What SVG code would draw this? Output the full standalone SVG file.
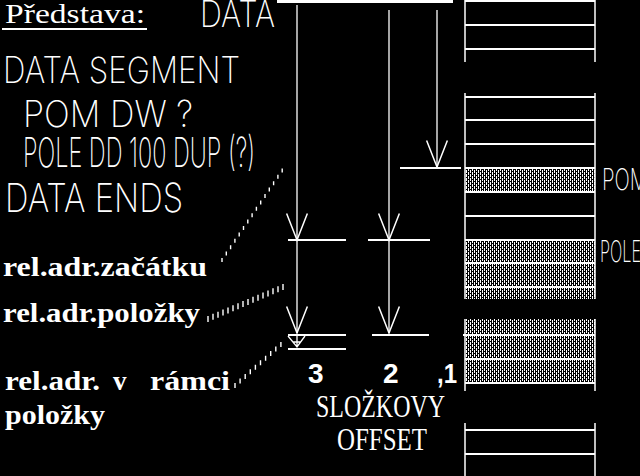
<svg xmlns="http://www.w3.org/2000/svg" width="640" height="476" viewBox="0 0 640 476">
<style>
.sans{font-family:Inter,"DejaVu Sans","Liberation Sans",sans-serif;font-weight:200;fill:#fff}
.serif{font-family:"Liberation Serif","DejaVu Serif",serif;fill:#fff}
.lbl{font-family:"Liberation Serif","DejaVu Serif",serif;font-weight:bold;font-size:27px;fill:#fff}
.dig{font-family:"Liberation Sans",Arial,sans-serif;font-weight:bold;font-size:28px;fill:#fff}
.ln{stroke:#fff;stroke-width:1.3;fill:none}
.hl{stroke:#fff;stroke-width:2;fill:none}
.tick{stroke:#fff;stroke-width:1.4;fill:none}
.cell{stroke:#fff;stroke-width:2}
.brd{stroke:#fff;stroke-width:1.5}
</style>
<defs>
<pattern id="hatch" width="4" height="4" patternUnits="userSpaceOnUse">
<rect width="4" height="4" fill="#000"/>
<rect x="0" y="0" width="1" height="3" fill="#fff"/>
<rect x="2" y="2" width="1" height="2" fill="#fff"/>
<rect x="2" y="0" width="1" height="1" fill="#fff"/>
</pattern>
<marker id="v" markerUnits="userSpaceOnUse" markerWidth="30" markerHeight="24" viewBox="-24 -10 26 20" refX="0" refY="0" orient="auto">
<path d="M-23,-9 L0,0 L-23,9" fill="none" stroke="#fff" stroke-width="1.3"/>
</marker>
</defs>
<rect width="640" height="476" fill="#000"/>

<g id="title">
<text class="serif" x="5" y="23" font-size="27" textLength="140" lengthAdjust="spacingAndGlyphs">Představa:</text>
<line class="hl" x1="2" y1="29" x2="147" y2="29"/>
</g>

<g id="data-label">
<text class="sans" x="200" y="27" font-size="36" textLength="75" lengthAdjust="spacingAndGlyphs">DATA</text>
</g>

<g id="code">
<text class="sans" x="3" y="83" font-size="36" textLength="237" lengthAdjust="spacingAndGlyphs">DATA SEGMENT</text>
<text class="sans" x="23" y="127" font-size="37" textLength="170" lengthAdjust="spacingAndGlyphs">POM DW ?</text>
<text class="sans" x="23" y="167" font-size="41" textLength="232" lengthAdjust="spacingAndGlyphs">POLE DD 100 DUP (?)</text>
<text class="sans" x="5" y="212" font-size="40" textLength="178" lengthAdjust="spacingAndGlyphs">DATA ENDS</text>
</g>

<g id="memory">
<rect x="465" y="168" width="130" height="24" fill="url(#hatch)"/>
<rect x="465" y="240" width="130" height="59" fill="url(#hatch)"/>
<rect x="465" y="319" width="130" height="64" fill="url(#hatch)"/>
<g class="brd">
<line x1="465" y1="0" x2="465" y2="62"/><line x1="595" y1="0" x2="595" y2="62"/>
<line x1="465" y1="93" x2="465" y2="299"/><line x1="595" y1="93" x2="595" y2="299"/>
<line x1="465" y1="319" x2="465" y2="391"/><line x1="595" y1="319" x2="595" y2="391"/>
<line x1="465" y1="423" x2="465" y2="476"/><line x1="595" y1="423" x2="595" y2="476"/>
</g>
<g class="cell">
<line x1="465" y1="1" x2="595" y2="1"/>
<line x1="465" y1="25" x2="595" y2="25"/>
<line x1="465" y1="49" x2="595" y2="49"/>
<line x1="465" y1="97" x2="595" y2="97"/>
<line x1="465" y1="120" x2="595" y2="120"/>
<line x1="465" y1="144" x2="595" y2="144"/>
<line x1="465" y1="168" x2="595" y2="168"/>
<line x1="465" y1="192" x2="595" y2="192"/>
<line x1="465" y1="216" x2="595" y2="216"/>
<line x1="465" y1="240" x2="595" y2="240"/>
<line x1="465" y1="263" x2="595" y2="263"/>
<line x1="465" y1="287" x2="595" y2="287"/>
<line x1="463" y1="335" x2="595" y2="335"/>
<line x1="465" y1="359" x2="595" y2="359"/>
<line x1="465" y1="383" x2="595" y2="383"/>
<line x1="465" y1="430" x2="595" y2="430"/>
<line x1="465" y1="454" x2="595" y2="454"/>
</g>
<text class="sans" x="602" y="190" font-size="30" textLength="46" lengthAdjust="spacingAndGlyphs">POM</text>
<text class="sans" x="600" y="262" font-size="30" textLength="41" lengthAdjust="spacingAndGlyphs">POLE</text>
</g>

<g id="labels">
<text class="lbl" x="3" y="276" textLength="204" lengthAdjust="spacingAndGlyphs">rel.adr.začátku</text>
<text class="lbl" x="3" y="322" textLength="197" lengthAdjust="spacingAndGlyphs">rel.adr.položky</text>
<text class="lbl" x="5" y="390" textLength="95" lengthAdjust="spacingAndGlyphs">rel.adr.</text>
<text class="lbl" x="113" y="390">v</text>
<text class="lbl" x="150" y="390" textLength="80" lengthAdjust="spacingAndGlyphs">rámci</text>
<text class="lbl" x="5" y="424" textLength="100" lengthAdjust="spacingAndGlyphs">položky</text>
</g>

<g id="offset">
<text class="dig" x="308" y="383">3</text>
<text class="dig" x="383" y="383">2</text>
<text class="dig" x="437" y="383" textLength="20" lengthAdjust="spacingAndGlyphs">,1</text>
<text class="serif" x="316" y="417" font-size="31" textLength="129" lengthAdjust="spacingAndGlyphs">SLOŽKOVY</text>
<text class="serif" x="337" y="450" font-size="31" textLength="90" lengthAdjust="spacingAndGlyphs">OFFSET</text>
</g>

<g id="connectors">
<line x1="277" y1="1.5" x2="453" y2="1.5" stroke="#fff" stroke-width="3"/>
<line class="ln" x1="297" y1="5" x2="297" y2="240" marker-end="url(#v)"/>
<line class="ln" x1="297" y1="240" x2="297" y2="333" marker-end="url(#v)"/>
<line class="ln" x1="389" y1="10" x2="389" y2="240" marker-end="url(#v)"/>
<line class="ln" x1="389" y1="240" x2="389" y2="333" marker-end="url(#v)"/>
<line class="ln" x1="437" y1="10" x2="437" y2="167" marker-end="url(#v)"/>
<line class="hl" x1="400" y1="168" x2="461" y2="168"/>
<line class="hl" x1="288" y1="240" x2="346" y2="240"/>
<line class="hl" x1="368" y1="240" x2="430" y2="240"/>
<line class="hl" x1="288" y1="335" x2="346" y2="335"/>
<line class="hl" x1="372" y1="335" x2="429" y2="335"/>
<line class="hl" x1="288" y1="349" x2="346" y2="349"/>
<path class="ln" d="M288,336 L297,347 L305,336 M293,342 L301,342 M297,336 V347"/>
<path class="tick" d="M222,262 v-4 m4.3,-2.4 v-4 m4.3,-2.4 v-4 m4.3,-2.4 v-4 m4.3,-2.4 v-4 m4.3,-2.4 v-4 m4.3,-2.4 v-4 m4.3,-2.4 v-4 m4.3,-2.4 v-4 m4.3,-2.4 v-4 m4.3,-2.4 v-4 m4.3,-2.4 v-4 m4.3,-2.4 v-4 m4.3,-2.4 v-4 m4.3,-2.4 v-4"/>
<path class="tick" d="M208,322 v-6 m5,3.87 v-6 m5,3.87 v-6 m5,3.87 v-6 m5,3.87 v-6 m5,3.87 v-6 m5,3.87 v-6 m5,3.87 v-6 m5,3.87 v-6 m5,3.87 v-6 m5,3.87 v-6 m5,3.87 v-6 m5,3.87 v-6 m5,3.87 v-6 m5,3.87 v-6 m5,3.87 v-6"/>
<path class="tick" d="M235,388 v-5 m5.1,0.44 v-5 m5.1,0.44 v-5 m5.1,0.44 v-5 m5.1,0.44 v-5 m5.1,0.44 v-5 m5.1,0.44 v-5 m5.1,0.44 v-5 m5.1,0.44 v-5 m5.1,0.44 v-5"/>
</g>
</svg>
